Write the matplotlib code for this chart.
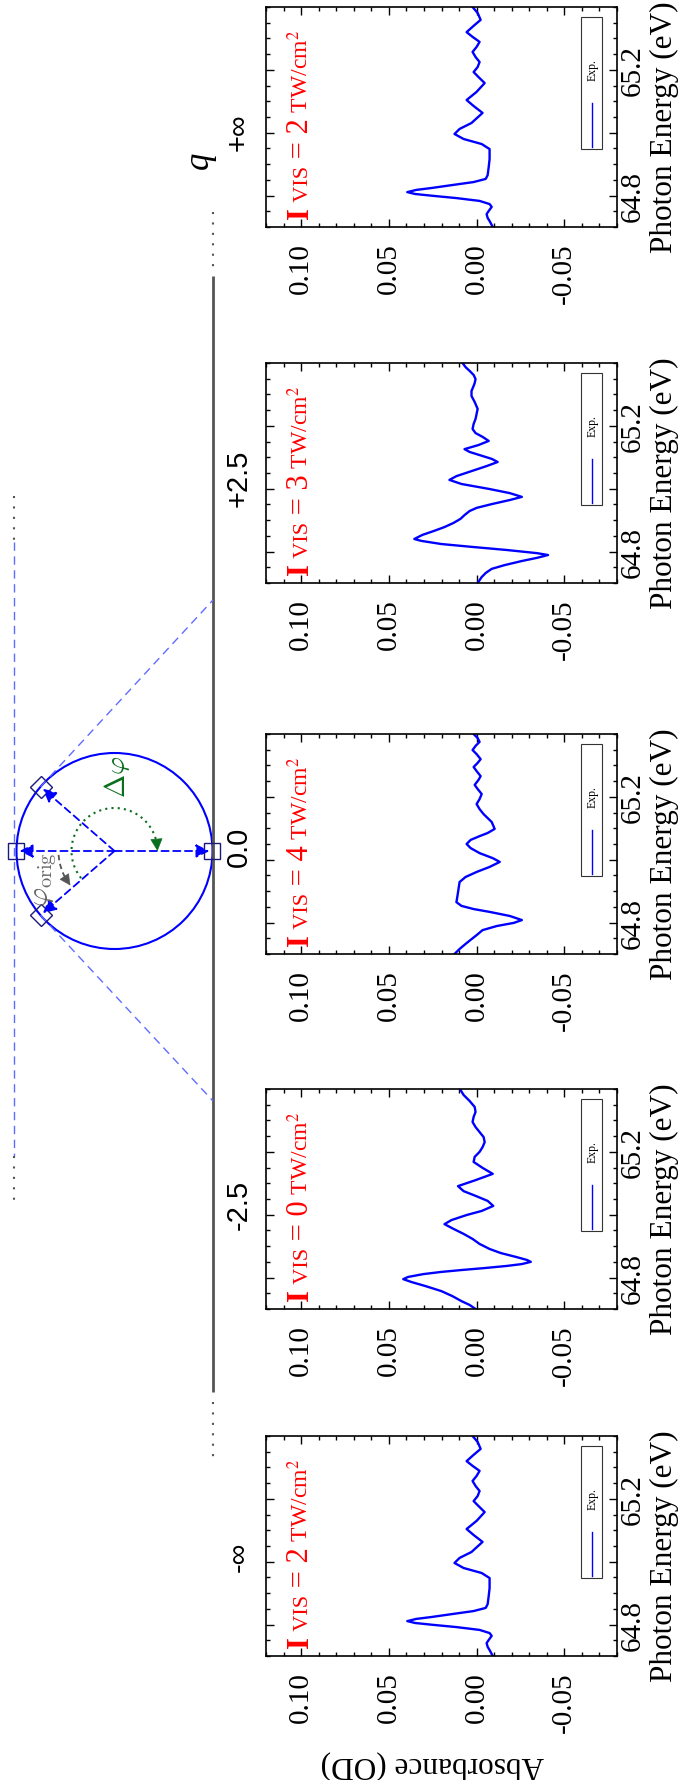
import numpy as np
import matplotlib
matplotlib.use("Agg")
import matplotlib.pyplot as plt
import matplotlib.transforms as mtransforms
from matplotlib.patches import Rectangle, Circle

plt.rcParams["font.family"] = ["Liberation Serif", "DejaVu Serif"]
plt.rcParams["mathtext.fontset"] = "stix"

## panels from bottom (q = -inf) to top (q = +inf)
q_labels = ["-\u221e", "-2.5", "0.0", "+2.5", "+\u221e"]
intensity_tw = [2, 0, 4, 3, 2]

## spectra: photon energy (eV), absorbance (OD)
e_2tw = [65.400, 65.381, 65.359, 65.340, 65.320, 65.305, 65.289, 65.273, 65.257, 65.241,
         65.225, 65.209, 65.193, 65.177, 65.158, 65.130, 65.104, 65.085, 65.063, 65.031,
         65.012, 64.996, 64.980, 64.964, 64.948, 64.916, 64.891, 64.865, 64.853, 64.843,
         64.834, 64.824, 64.818, 64.811, 64.805, 64.799, 64.792, 64.783, 64.773, 64.764,
         64.751, 64.741, 64.729, 64.719, 64.700]
a_2tw = [0.0023, -0.0006, -0.0023, 0.0017, 0.0057, 0.0023, -0.0017, 0.0000, 0.0023, 0.0006,
         -0.0017, -0.0006, 0.0017, -0.0011, -0.0046, 0.0000, 0.0057, 0.0017, -0.0034, 0.0029,
         0.0097, 0.0126, 0.0074, -0.0029, -0.0074, -0.0074, -0.0069, -0.0063, -0.0052, 0.0017,
         0.0132, 0.0258, 0.0344, 0.0395, 0.0350, 0.0246, 0.0115, -0.0017, -0.0074, -0.0086,
         -0.0069, -0.0057, -0.0063, -0.0074, -0.0092]

e_0tw = [65.400, 65.381, 65.362, 65.343, 65.327, 65.311, 65.295, 65.279, 65.263, 65.247,
         65.231, 65.215, 65.200, 65.184, 65.168, 65.149, 65.130, 65.110, 65.091, 65.075,
         65.060, 65.044, 65.028, 65.012, 64.999, 64.983, 64.970, 64.955, 64.939, 64.923,
         64.907, 64.891, 64.878, 64.865, 64.856, 64.850, 64.843, 64.837, 64.830, 64.824,
         64.818, 64.811, 64.802, 64.795, 64.786, 64.773, 64.757, 64.741, 64.725, 64.713,
         64.700]
a_0tw = [0.0095, 0.0074, 0.0040, 0.0011, 0.0006, 0.0017, 0.0023, 0.0006, -0.0017, -0.0040,
         -0.0046, -0.0034, -0.0017, 0.0011, 0.0017, -0.0034, -0.0092, 0.0006, 0.0106, 0.0074,
         0.0006, -0.0063, -0.0095, -0.0029, 0.0057, 0.0143, 0.0183, 0.0132, 0.0074, 0.0023,
         -0.0017, -0.0074, -0.0138, -0.0229, -0.0287, -0.0309, -0.0258, -0.0172, -0.0040, 0.0086,
         0.0201, 0.0304, 0.0390, 0.0418, 0.0372, 0.0292, 0.0201, 0.0138, 0.0086, 0.0040,
         0.0006]

e_4tw = [65.400, 65.387, 65.375, 65.362, 65.349, 65.336, 65.320, 65.308, 65.295, 65.282,
         65.266, 65.254, 65.238, 65.225, 65.209, 65.193, 65.177, 65.161, 65.145, 65.120,
         65.098, 65.085, 65.075, 65.063, 65.050, 65.037, 65.021, 65.005, 64.993, 64.977,
         64.961, 64.945, 64.929, 64.907, 64.885, 64.865, 64.853, 64.843, 64.834, 64.821,
         64.808, 64.799, 64.789, 64.776, 64.760, 64.745, 64.732, 64.716, 64.700]
a_4tw = [0.0017, -0.0006, -0.0017, 0.0006, 0.0023, 0.0000, -0.0023, -0.0006, 0.0017, 0.0000,
         -0.0023, -0.0011, 0.0011, -0.0006, -0.0029, -0.0017, 0.0000, -0.0017, -0.0040, -0.0086,
         -0.0103, -0.0063, -0.0017, 0.0034, 0.0057, 0.0034, -0.0017, -0.0092, -0.0132, -0.0074,
         0.0000, 0.0063, 0.0097, 0.0103, 0.0109, 0.0115, 0.0086, 0.0017, -0.0074, -0.0189,
         -0.0258, -0.0212, -0.0115, -0.0034, 0.0000, 0.0034, 0.0063, 0.0097, 0.0126]

e_3tw = [65.400, 65.387, 65.375, 65.362, 65.349, 65.336, 65.327, 65.311, 65.295, 65.276,
         65.254, 65.238, 65.222, 65.206, 65.190, 65.177, 65.165, 65.152, 65.139, 65.126,
         65.117, 65.107, 65.095, 65.085, 65.072, 65.056, 65.040, 65.028, 65.015, 64.999,
         64.986, 64.974, 64.964, 64.951, 64.939, 64.929, 64.916, 64.904, 64.891, 64.878,
         64.865, 64.853, 64.840, 64.834, 64.824, 64.815, 64.805, 64.795, 64.789, 64.780,
         64.770, 64.757, 64.745, 64.732, 64.719, 64.700]
a_3tw = [0.0080, 0.0063, 0.0040, 0.0017, 0.0006, 0.0011, 0.0017, 0.0029, 0.0029, 0.0011,
         -0.0006, 0.0000, 0.0006, 0.0017, 0.0023, 0.0006, -0.0034, -0.0069, -0.0011, 0.0069,
         0.0040, -0.0017, -0.0086, -0.0120, -0.0057, 0.0029, 0.0115, 0.0155, 0.0086, -0.0074,
         -0.0189, -0.0258, -0.0189, -0.0086, 0.0000, 0.0040, 0.0069, 0.0092, 0.0132, 0.0183,
         0.0246, 0.0309, 0.0355, 0.0315, 0.0201, 0.0029, -0.0172, -0.0344, -0.0407, -0.0344,
         -0.0258, -0.0160, -0.0086, -0.0052, -0.0029, -0.0006]

energies = [e_2tw, e_0tw, e_4tw, e_3tw, e_2tw]
absorbances = [a_2tw, a_0tw, a_4tw, a_3tw, a_2tw]

W, H = 685, 1781
fig = plt.figure(figsize=(W / 100, H / 100), dpi=100)

## schematic on the left, drawn in pixel coordinates (y down)
diag = fig.add_axes([0, 0, 1, 1])
diag.set_xlim(0, W)
diag.set_ylim(H, 0)
diag.axis("off")

gray = "#555555"
lightblue = "#5f6dff"
navy = "#1a1a7a"
green = "#0a6e1e"
dots = (0, (1, 4))

# q axis
qx = 213
diag.plot([qx, qx], [277, 1393], color=gray, lw=2.0, solid_capstyle="butt")
diag.plot([qx, qx], [213, 268], color=gray, lw=1.5, ls=dots)
diag.plot([qx, qx], [1403, 1458], color=gray, lw=1.5, ls=dots)
q_pos = [1557, 1205, 847, 478, 132]
for lab, y in zip(q_labels, q_pos):
    diag.text(239, y, lab, rotation=90, ha="center", va="center", fontsize=21,
              family=["Liberation Sans", "DejaVu Sans"])
diag.text(199, 160, "q", rotation=90, ha="center", va="center", fontsize=25, style="italic")

# left tangent line
lx = 14.5
diag.plot([lx, lx], [497, 543], color=gray, lw=1.5, ls=dots)
diag.plot([lx, lx], [543, 1157], color=lightblue, lw=1.0, ls=(0, (6, 4)))
diag.plot([lx, lx], [1157, 1207], color=gray, lw=1.5, ls=dots)

# phase circle
cx, cy, r = 114.5, 852, 98
diag.add_patch(Circle((cx, cy), r, fill=False, ec="#0000ff", lw=1.5))

def on_circle(t, rad):
    return cx + rad * np.cos(np.radians(t)), cy + rad * np.sin(np.radians(t))

up_d = on_circle(221, r)
lo_d = on_circle(139, r)

# tangent lines to the q axis
diag.plot([up_d[0], qx], [up_d[1], 601], color=lightblue, lw=1.0, ls=(0, (6, 4)))
diag.plot([lo_d[0], qx], [lo_d[1], 1102], color=lightblue, lw=1.0, ls=(0, (6, 4)))

# arrows from the centre
for t in [180, 0, 221, 139]:
    tip = on_circle(t, r - 3)
    diag.annotate("", xy=tip, xytext=(cx, cy),
                  arrowprops=dict(arrowstyle="-|>", color="#0000ff", lw=1.3,
                                  ls=(0, (4, 2.5)), mutation_scale=20,
                                  shrinkA=0, shrinkB=0))

diag.plot([cx - r, cx + r], [cy, cy], "s", mfc="none", mec=navy, ms=11, mew=1)
diag.plot([up_d[0], lo_d[0]], [up_d[1], lo_d[1]], "D", mfc="none", mec=navy, ms=11, mew=1)

# delta phi arc
th = np.linspace(141, 352, 80)
ax_, ay_ = on_circle(th, 43)
diag.plot(ax_, ay_, color=green, lw=1.5, ls=(0, (1, 2)))
diag.annotate("", xy=on_circle(360, 43), xytext=on_circle(350, 43),
              arrowprops=dict(arrowstyle="-|>", color=green, lw=0.5, mutation_scale=20,
                              shrinkA=0, shrinkB=0))
diag.text(117, 777, r"$\Delta\varphi$", color=green, fontsize=20, rotation=90,
          ha="center", va="center", math_fontfamily="cm")

# phi orig arc
th = np.linspace(176, 150, 30)
gx_, gy_ = on_circle(th, 56)
diag.plot(gx_, gy_, color=gray, lw=1.3, ls=(0, (3, 2)))
diag.annotate("", xy=on_circle(142, 56), xytext=on_circle(150, 56),
              arrowprops=dict(arrowstyle="-|>", color=gray, lw=0.5, mutation_scale=18,
                              shrinkA=0, shrinkB=0))
diag.text(46, 880, r"$\varphi_{\rm orig}$", color="#666666", fontsize=21, rotation=90,
          ha="center", va="center", math_fontfamily="cm")


def put_red_label(ax, pieces, x0, y0):
    renderer = fig.canvas.get_renderer()
    shift = 0.0
    for text, size, weight in pieces:
        tr = mtransforms.offset_copy(ax.transAxes, fig=fig, x=0, y=shift, units="dots")
        t = ax.text(x0, y0, text, transform=tr, color="red", fontsize=size, fontweight=weight,
                    rotation=90, rotation_mode="anchor", ha="left", va="baseline")
        shift += t.get_window_extent(renderer).height


## spectra panels
tops = [1437, 1090, 735, 364, 8]
px0, pw, ph = 266, 351, 220
for i in range(5):
    T = tops[i]
    ax = fig.add_axes([px0 / W, 1 - (T + ph) / H, pw / W, ph / H])
    ax.plot(absorbances[i], energies[i], color="#0000ff", lw=1.7)
    ax.set_xlim(0.12, -0.08)
    ax.set_ylim(64.70, 65.40)

    ax.set_xticks([0.10, 0.05, 0.00, -0.05])
    ax.set_xticklabels(["0.10", "0.05", "0.00", "-0.05"], rotation=90, ha="center",
                       va="top", fontsize=21)
    ax.set_xticks(np.arange(-0.08, 0.1201, 0.01), minor=True)
    ax.set_yticks([64.8, 65.0, 65.2])
    ax.set_yticklabels(["64.8", "", "65.2"], rotation=90, va="center", fontsize=21)
    ax.set_yticks(np.arange(64.70, 65.401, 0.05), minor=True)
    ax.tick_params(which="both", direction="in", top=True, bottom=True, left=True, right=True,
                   labelleft=False, labelright=True, labelbottom=True, width=1)
    ax.tick_params(which="major", length=6)
    ax.tick_params(which="minor", length=3)
    ax.tick_params(axis="x", pad=11)
    ax.tick_params(axis="y", pad=2)
    for sp in ax.spines.values():
        sp.set_linewidth(1.2)

    ax.yaxis.set_label_position("right")
    ax.set_ylabel("Photon Energy (eV)", fontsize=22.5)
    ax.yaxis.set_label_coords(1.095, 0.46)
    if i == 0:
        ax.set_xlabel("Absorbance (OD)", fontsize=22.5, rotation=180)
        ax.xaxis.set_label_coords(0.474, -0.42)

    # legend box
    ax.add_patch(Rectangle((0.897, 0.355), 0.06, 0.60, transform=ax.transAxes,
                           fill=False, ec="#333333", lw=0.8))
    ax.plot([0.9285, 0.9285], [0.364, 0.564], transform=ax.transAxes, color="#0000ff", lw=1)
    ax.text(0.93, 0.72, "Exp.", transform=ax.transAxes, rotation=90, ha="center",
            va="center", fontsize=8.5)

    put_red_label(ax, [("I", 22, "bold"), (" VIS", 16, "normal"),
                       (" = %d" % intensity_tw[i], 22, "normal"),
                       (r" TW/cm$^2$", 17, "normal")], 0.12, 0.041)

fig.savefig("out.png", dpi=100)
